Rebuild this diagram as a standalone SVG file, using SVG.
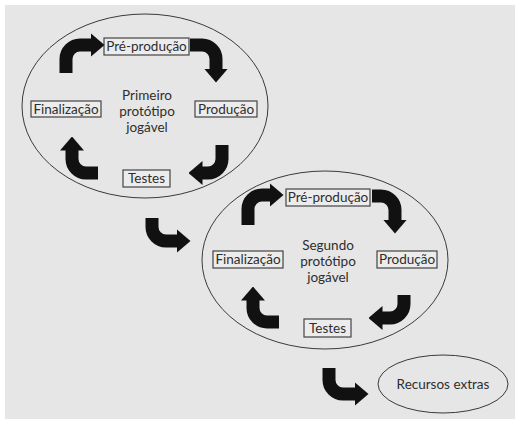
<svg xmlns="http://www.w3.org/2000/svg" width="515" height="421" viewBox="0 0 515 421">
  <style>
    .bg { fill: #e6e6e6; }
    .ell { fill: none; stroke: #3a3a3a; stroke-width: 1; }
    .box { fill: #ececec; stroke: #444; stroke-width: 1.2; }
    .lbl { font-family: Lato, "Open Sans", sans-serif; font-size: 13.5px; fill: #2e2e2e; text-anchor: middle; }
    .arr { fill: none; stroke: #111; stroke-width: 13; stroke-linejoin: miter; marker-end: url(#head); }
  </style>
  <defs>
    <marker id="head" markerUnits="userSpaceOnUse" markerWidth="14" markerHeight="24" viewBox="0 0 14 24" refX="0.5" refY="12" orient="auto">
      <path d="M0 0 L14 12 L0 24 Z" fill="#111"/>
    </marker>
  </defs>
  <rect class="bg" x="5" y="5" width="510" height="414"/>

  <g id="ciclo1">
    <ellipse class="ell" cx="145" cy="106" rx="123" ry="92"/>
  </g>
  <g id="ciclo2">
    <ellipse class="ell" cx="325" cy="260" rx="123" ry="89"/>
  </g>

  <g id="n1-preproducao">
    <rect class="box" x="104" y="38" width="85" height="17"/>
    <text class="lbl" x="146.5" y="51">Pré-produção</text>
  </g>
  <g id="n1-producao">
    <rect class="box" x="195" y="101" width="62" height="16"/>
    <text class="lbl" x="226" y="113.5">Produção</text>
  </g>
  <g id="n1-testes">
    <rect class="box" x="123" y="170" width="47" height="17"/>
    <text class="lbl" x="146.5" y="183">Testes</text>
  </g>
  <g id="n1-finalizacao">
    <rect class="box" x="31" y="101" width="70" height="16"/>
    <text class="lbl" x="66" y="113.5">Finalização</text>
  </g>
  <g id="n1-centro">
    <text class="lbl" x="147" y="100">Primeiro</text>
    <text class="lbl" x="147" y="116">protótipo</text>
    <text class="lbl" x="147" y="132">jogável</text>
  </g>

  <g id="n2-preproducao">
    <rect class="box" x="286" y="189" width="84" height="17"/>
    <text class="lbl" x="328" y="202">Pré-produção</text>
  </g>
  <g id="n2-producao">
    <rect class="box" x="377" y="251" width="60" height="17"/>
    <text class="lbl" x="407" y="264">Produção</text>
  </g>
  <g id="n2-testes">
    <rect class="box" x="304" y="319" width="47" height="18"/>
    <text class="lbl" x="327.5" y="332.5">Testes</text>
  </g>
  <g id="n2-finalizacao">
    <rect class="box" x="213" y="251" width="70" height="17"/>
    <text class="lbl" x="248" y="264">Finalização</text>
  </g>
  <g id="n2-centro">
    <text class="lbl" x="328" y="250">Segundo</text>
    <text class="lbl" x="328" y="266">protótipo</text>
    <text class="lbl" x="328" y="282">jogável</text>
  </g>

  <g id="recursos">
    <ellipse class="ell" cx="443" cy="384" rx="65" ry="29"/>
    <text class="lbl" x="443" y="389">Recursos extras</text>
  </g>

  <g id="conectores">
    <path class="arr" d="M66 73 V59 A14 14 0 0 1 80 45 H91"/>
    <path class="arr" d="M190 45 H202 A14 14 0 0 1 216 59 V69"/>
    <path class="arr" d="M222 145 V159 A14 14 0 0 1 208 173 H202"/>
    <path class="arr" d="M98 173 H86 A14 14 0 0 1 72 159 V150"/>
    <path class="arr" d="M152 218 V227 A14 14 0 0 0 166 241 H177"/>
    <path class="arr" d="M248 225 V209 A14 14 0 0 1 262 195 H270"/>
    <path class="arr" d="M372 196 H381 A14 14 0 0 1 395 210 V220"/>
    <path class="arr" d="M404 295 V304 A14 14 0 0 1 390 318 H382"/>
    <path class="arr" d="M279 322 H267 A14 14 0 0 1 253 308 V300"/>
    <path class="arr" d="M329 368 V380 A14 14 0 0 0 343 394 H355"/>
  </g>
</svg>
